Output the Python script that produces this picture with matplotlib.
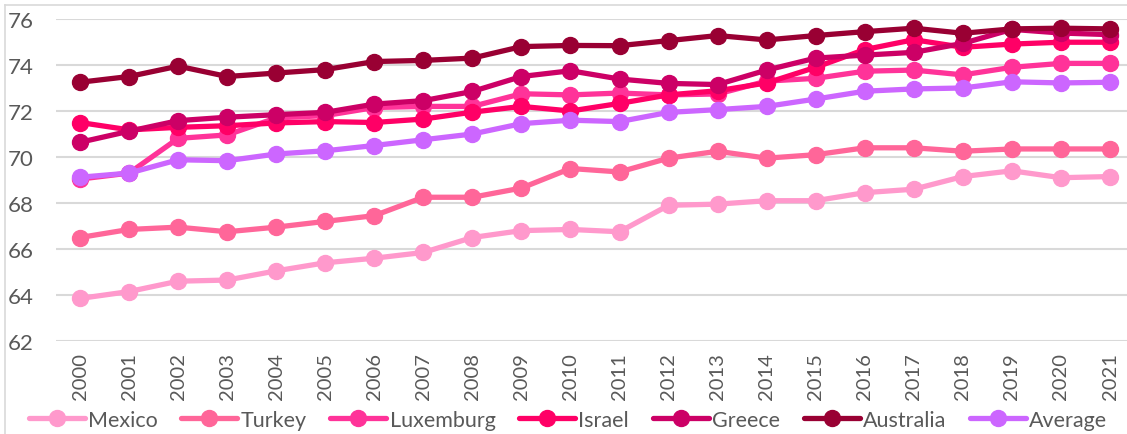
import matplotlib.pyplot as plt
from matplotlib.lines import Line2D

# --- Life expectancy series, 2000-2021 ---
years = [str(y) for y in range(2000, 2022)]

mexico = [63.85, 64.15, 64.6, 64.65, 65.05, 65.4, 65.6, 65.85, 66.5, 66.8, 66.85,
          66.75, 67.9, 67.95, 68.1, 68.1, 68.45, 68.6, 69.15, 69.4, 69.1, 69.15]
turkey = [66.5, 66.85, 66.95, 66.75, 66.95, 67.2, 67.45, 68.25, 68.25, 68.65, 69.5,
          69.35, 69.95, 70.25, 69.95, 70.1, 70.4, 70.4, 70.25, 70.35, 70.35, 70.35]
luxemburg = [69.04, 69.3, 70.81, 70.96, 71.7, 71.8, 72.15, 72.2, 72.2, 72.75, 72.7,
             72.78, 72.7, 72.74, 73.3, 73.42, 73.73, 73.78, 73.57, 73.9, 74.07, 74.07]
israel = [71.5, 71.18, 71.29, 71.36, 71.48, 71.54, 71.5, 71.65, 71.95, 72.2, 72.0,
          72.33, 72.7, 72.88, 73.22, 73.9, 74.67, 75.1, 74.77, 74.91, 74.99, 74.99]
greece = [70.64, 71.12, 71.58, 71.73, 71.84, 71.94, 72.3, 72.45, 72.85, 73.5, 73.75,
          73.39, 73.2, 73.15, 73.78, 74.3, 74.43, 74.55, 74.94, 75.55, 75.39, 75.32]
australia = [73.25, 73.5, 73.95, 73.5, 73.65, 73.8, 74.15, 74.2, 74.3, 74.8, 74.85,
             74.84, 75.06, 75.28, 75.09, 75.28, 75.45, 75.6, 75.38, 75.57, 75.6, 75.57]
average = [69.12, 69.3, 69.88, 69.84, 70.13, 70.27, 70.5, 70.75, 71.0, 71.45, 71.6,
           71.54, 71.94, 72.06, 72.2, 72.52, 72.86, 72.96, 73.0, 73.27, 73.22, 73.25]

series = [
    ("Mexico", mexico, "#FF99CC"),
    ("Turkey", turkey, "#FF6699"),
    ("Luxemburg", luxemburg, "#FF3399"),
    ("Israel", israel, "#FF0066"),
    ("Greece", greece, "#CC0066"),
    ("Australia", australia, "#990033"),
    ("Average", average, "#CC66FF"),
]

plt.rcParams['font.family'] = ['Lato', 'DejaVu Sans']

W, H = 1127, 435
fig = plt.figure(figsize=(W / 100, H / 100), dpi=100)

# plot area in pixel terms
left_px, right_px = 55.5, 1127
top_px, bottom_px = 20, 342
ax = fig.add_axes([left_px / W, 1 - bottom_px / H,
                   (right_px - left_px) / W, (bottom_px - top_px) / H])

x = list(range(len(years)))
for name, vals, color in series:
    ax.plot(x, vals, color=color, lw=3.8, marker='o', ms=11.5,
            solid_capstyle='round', label=name)

ax.set_ylim(62, 76)
ax.set_yticks(range(62, 77, 2))
ax.set_xlim(-0.5, 21 + (right_px - 1110) / 49.05)
ax.set_xticks(x)
ax.set_xticklabels(years, rotation=90)
ax.tick_params(axis='both', length=0, colors='#595959')
ax.tick_params(axis='y', pad=16, labelsize=16)
ax.tick_params(axis='x', pad=8, labelsize=14.5)
ax.grid(axis='y', color='#D9D9D9', lw=1.5)
ax.set_axisbelow(True)
for s in ax.spines.values():
    s.set_visible(False)

# chart border (left and top edges visible)
fig.add_artist(Line2D([5 / W, 5 / W], [0, 1 - 6 / H], color='#D9D9D9', lw=1.2))
fig.add_artist(Line2D([5 / W, 1], [1 - 6 / H, 1 - 6 / H], color='#D9D9D9', lw=1.2))

leg = fig.legend(loc='center', bbox_to_anchor=(568 / W, 1 - 421 / H), ncol=7,
                 frameon=False, fontsize=15.5, handlelength=2.6, handletextpad=0.15,
                 columnspacing=1.1, borderaxespad=0)
for t in leg.get_texts():
    t.set_color('#595959')

fig.savefig("out.png", dpi=100)
